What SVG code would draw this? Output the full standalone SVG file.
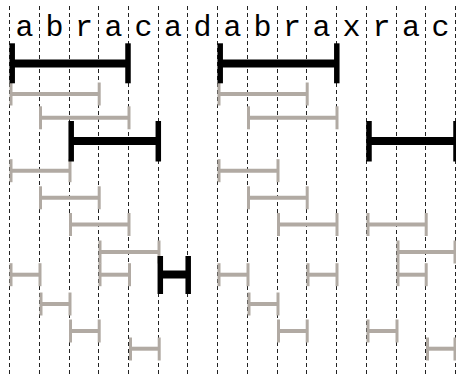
<svg xmlns="http://www.w3.org/2000/svg" width="456" height="377" viewBox="0 0 456 377">
<style>
.grid line{stroke:#222;stroke-width:1;stroke-dasharray:4,3}
.lt text{font-family:"Liberation Mono","DejaVu Sans Mono",monospace;font-size:30px;fill:#000;text-anchor:middle}
.g line{stroke:#b1aaa3}
.g .h{stroke-width:4}
.g .c{stroke-width:3}
.b line{stroke:#000}
.b .h{stroke-width:8}
.b .c{stroke-width:5.5}
</style>
<rect width="456" height="377" fill="#fff"/>
<g id="grid" class="grid">
<line x1="9.5" y1="6" x2="9.5" y2="377"/>
<line x1="39.5" y1="6" x2="39.5" y2="377"/>
<line x1="69.5" y1="6" x2="69.5" y2="377"/>
<line x1="98.5" y1="6" x2="98.5" y2="377"/>
<line x1="128.5" y1="6" x2="128.5" y2="377"/>
<line x1="158.5" y1="6" x2="158.5" y2="377"/>
<line x1="187.5" y1="6" x2="187.5" y2="377"/>
<line x1="217.5" y1="6" x2="217.5" y2="377"/>
<line x1="247.5" y1="6" x2="247.5" y2="377"/>
<line x1="277.5" y1="6" x2="277.5" y2="377"/>
<line x1="306.5" y1="6" x2="306.5" y2="377"/>
<line x1="336.5" y1="6" x2="336.5" y2="377"/>
<line x1="366.5" y1="6" x2="366.5" y2="377"/>
<line x1="396.5" y1="6" x2="396.5" y2="377"/>
<line x1="425.5" y1="6" x2="425.5" y2="377"/>
<line x1="455.5" y1="6" x2="455.5" y2="377"/>
</g>
<g id="letters" class="lt">
<text x="24.5" y="36">a</text>
<text x="54.5" y="36">b</text>
<text x="84" y="36">r</text>
<text x="113.5" y="36">a</text>
<text x="143.5" y="36">c</text>
<text x="173" y="36">a</text>
<text x="202.5" y="36">d</text>
<text x="232.5" y="36">a</text>
<text x="262.5" y="36">b</text>
<text x="292" y="36">r</text>
<text x="321.5" y="36">a</text>
<text x="351.5" y="36">x</text>
<text x="381.5" y="36">r</text>
<text x="411" y="36">a</text>
<text x="440.5" y="36">c</text>
</g>
<g id="gray-bars" class="g">
<!-- row y=94 -->
<line class="h" x1="11" y1="94" x2="99.2" y2="94"/><line class="c" x1="11" y1="82.5" x2="11" y2="105.5"/><line class="c" x1="99.2" y1="82.5" x2="99.2" y2="105.5"/>
<line class="h" x1="219" y1="94" x2="307.2" y2="94"/><line class="c" x1="219" y1="82.5" x2="219" y2="105.5"/><line class="c" x1="307.2" y1="82.5" x2="307.2" y2="105.5"/>
<!-- row y=117.8 -->
<line class="h" x1="40.5" y1="117.8" x2="129" y2="117.8"/><line class="c" x1="40.5" y1="106.3" x2="40.5" y2="129.3"/><line class="c" x1="129" y1="106.3" x2="129" y2="129.3"/>
<line class="h" x1="248.5" y1="117.8" x2="337" y2="117.8"/><line class="c" x1="248.5" y1="106.3" x2="248.5" y2="129.3"/><line class="c" x1="337" y1="106.3" x2="337" y2="129.3"/>
<!-- row y=170.7 -->
<line class="h" x1="11" y1="170.7" x2="70" y2="170.7"/><line class="c" x1="11" y1="159.2" x2="11" y2="182.2"/><line class="c" x1="70" y1="159.2" x2="70" y2="182.2"/>
<line class="h" x1="219" y1="170.7" x2="278" y2="170.7"/><line class="c" x1="219" y1="159.2" x2="219" y2="182.2"/><line class="c" x1="278" y1="159.2" x2="278" y2="182.2"/>
<!-- row y=197.8 -->
<line class="h" x1="40.5" y1="197.8" x2="99.2" y2="197.8"/><line class="c" x1="40.5" y1="186.3" x2="40.5" y2="209.3"/><line class="c" x1="99.2" y1="186.3" x2="99.2" y2="209.3"/>
<line class="h" x1="248.5" y1="197.8" x2="307.2" y2="197.8"/><line class="c" x1="248.5" y1="186.3" x2="248.5" y2="209.3"/><line class="c" x1="307.2" y1="186.3" x2="307.2" y2="209.3"/>
<!-- row y=224.5 -->
<line class="h" x1="70.5" y1="224.5" x2="129" y2="224.5"/><line class="c" x1="70.5" y1="213" x2="70.5" y2="236"/><line class="c" x1="129" y1="213" x2="129" y2="236"/>
<line class="h" x1="278.5" y1="224.5" x2="337" y2="224.5"/><line class="c" x1="278.5" y1="213" x2="278.5" y2="236"/><line class="c" x1="337" y1="213" x2="337" y2="236"/>
<line class="h" x1="368" y1="224.5" x2="426.2" y2="224.5"/><line class="c" x1="368" y1="213" x2="368" y2="236"/><line class="c" x1="426.2" y1="213" x2="426.2" y2="236"/>
<!-- row y=252 -->
<line class="h" x1="100" y1="252" x2="159" y2="252"/><line class="c" x1="100" y1="240.5" x2="100" y2="263.5"/><line class="c" x1="159" y1="240.5" x2="159" y2="263.5"/>
<line class="h" x1="398" y1="252" x2="456" y2="252"/><line class="c" x1="398" y1="240.5" x2="398" y2="263.5"/><line class="c" x1="455" y1="240.5" x2="455" y2="263.5"/>
<!-- row y=274.7 -->
<line class="h" x1="11" y1="274.7" x2="40" y2="274.7"/><line class="c" x1="11" y1="263.2" x2="11" y2="286.2"/><line class="c" x1="40" y1="263.2" x2="40" y2="286.2"/>
<line class="h" x1="100" y1="274.7" x2="129.5" y2="274.7"/><line class="c" x1="100" y1="263.2" x2="100" y2="286.2"/><line class="c" x1="129.5" y1="263.2" x2="129.5" y2="286.2"/>
<line class="h" x1="219" y1="274.7" x2="248" y2="274.7"/><line class="c" x1="219" y1="263.2" x2="219" y2="286.2"/><line class="c" x1="248" y1="263.2" x2="248" y2="286.2"/>
<line class="h" x1="308" y1="274.7" x2="337" y2="274.7"/><line class="c" x1="308" y1="263.2" x2="308" y2="286.2"/><line class="c" x1="337" y1="263.2" x2="337" y2="286.2"/>
<line class="h" x1="398" y1="274.7" x2="426.2" y2="274.7"/><line class="c" x1="398" y1="263.2" x2="398" y2="286.2"/><line class="c" x1="426.2" y1="263.2" x2="426.2" y2="286.2"/>
<!-- row y=304 -->
<line class="h" x1="41" y1="304" x2="70" y2="304"/><line class="c" x1="41" y1="292.5" x2="41" y2="315.5"/><line class="c" x1="70" y1="292.5" x2="70" y2="315.5"/>
<line class="h" x1="249" y1="304" x2="278" y2="304"/><line class="c" x1="249" y1="292.5" x2="249" y2="315.5"/><line class="c" x1="278" y1="292.5" x2="278" y2="315.5"/>
<!-- row y=331 -->
<line class="h" x1="70.5" y1="331" x2="99.2" y2="331"/><line class="c" x1="70.5" y1="319.5" x2="70.5" y2="342.5"/><line class="c" x1="99.2" y1="319.5" x2="99.2" y2="342.5"/>
<line class="h" x1="278.5" y1="331" x2="307.2" y2="331"/><line class="c" x1="278.5" y1="319.5" x2="278.5" y2="342.5"/><line class="c" x1="307.2" y1="319.5" x2="307.2" y2="342.5"/>
<line class="h" x1="368" y1="331" x2="397" y2="331"/><line class="c" x1="368" y1="319.5" x2="368" y2="342.5"/><line class="c" x1="397" y1="319.5" x2="397" y2="342.5"/>
<!-- row y=348.7 -->
<line class="h" x1="130.5" y1="348.7" x2="159.2" y2="348.7"/><line class="c" x1="130.5" y1="337.5" x2="130.5" y2="360.5"/><line class="c" x1="159.2" y1="337.5" x2="159.2" y2="360.5"/>
<line class="h" x1="427.5" y1="348.7" x2="456" y2="348.7"/><line class="c" x1="427.5" y1="337.5" x2="427.5" y2="360.5"/><line class="c" x1="455" y1="337.5" x2="455" y2="360.5"/>
</g>
<g id="black-bars" class="b">
<line class="h" x1="12" y1="63.5" x2="128" y2="63.5"/><line class="c" x1="12.2" y1="43.3" x2="12.2" y2="83.3"/><line class="c" x1="128" y1="43.3" x2="128" y2="83.3"/>
<line class="h" x1="220" y1="63.5" x2="336.5" y2="63.5"/><line class="c" x1="220.2" y1="43.3" x2="220.2" y2="83.3"/><line class="c" x1="336.8" y1="43.3" x2="336.8" y2="83.3"/>
<line class="h" x1="71" y1="141" x2="158.3" y2="141"/><line class="c" x1="71.2" y1="121" x2="71.2" y2="161.5"/><line class="c" x1="158.3" y1="121" x2="158.3" y2="161.5"/>
<line class="h" x1="369" y1="141" x2="456" y2="141"/><line class="c" x1="369" y1="121" x2="369" y2="161.5"/><line class="c" x1="456" y1="121" x2="456" y2="161.5"/>
<line class="h" x1="160" y1="274.5" x2="188.2" y2="274.5"/><line class="c" x1="160.3" y1="256" x2="160.3" y2="294"/><line class="c" x1="188.2" y1="256" x2="188.2" y2="294"/>
</g>
</svg>
